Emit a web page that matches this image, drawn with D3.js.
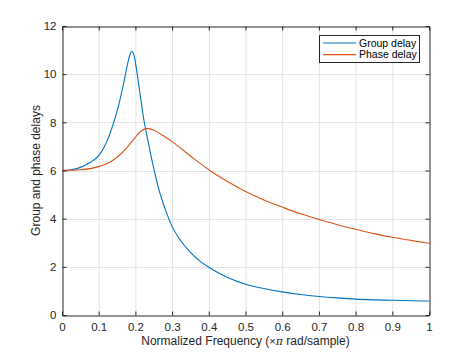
<!DOCTYPE html>
<html><head><meta charset="utf-8">
<script src="https://cdn.jsdelivr.net/npm/d3@7"></script>
<style>body{margin:0;background:#fff}svg{display:block}text{font-family:"Liberation Sans",Arial,Helvetica,sans-serif}</style>
</head><body><svg id="c" width="474" height="355"></svg>
<script>
const groupFreq = [0,0.025,0.05,0.075,0.1,0.115,0.13,0.142,0.155,0.167,0.177,0.184,0.19,0.196,0.203,0.212,0.222,0.232,0.242,0.252,0.265,0.28,0.3,0.325,0.35,0.375,0.4,0.45,0.5,0.55,0.6,0.65,0.7,0.75,0.8,0.85,0.9,0.95,1.0];
const groupDelay = [6.0,6.03,6.13,6.32,6.62,6.98,7.5,8.05,8.75,9.55,10.3,10.75,10.95,10.8,10.2,9.25,8.2,7.4,6.65,5.95,5.15,4.45,3.68,3.05,2.6,2.25,1.98,1.57,1.28,1.1,0.96,0.85,0.77,0.71,0.66,0.63,0.61,0.59,0.58];
const phaseFreq = [0,0.05,0.1,0.125,0.15,0.175,0.2,0.215,0.232,0.25,0.275,0.3,0.35,0.4,0.45,0.5,0.55,0.6,0.65,0.7,0.75,0.8,0.85,0.9,0.95,1.0];
const phaseDelay = [6.0,6.03,6.16,6.3,6.55,6.92,7.38,7.63,7.75,7.68,7.45,7.2,6.6,6.03,5.55,5.13,4.78,4.48,4.2,3.97,3.75,3.56,3.38,3.23,3.1,2.98];
const xTicks = [0,0.1,0.2,0.3,0.4,0.5,0.6,0.7,0.8,0.9,1];
const yTicks = [0,2,4,6,8,10,12];
const seriesNames = ["Group delay","Phase delay"];
const colors = ["#0072BD","#D95319"];

const svg = d3.select("#c");
const L=62,R=429,T=26,B=315;
const x = d3.scaleLinear().domain([0,1]).range([L,R]);
const y = d3.scaleLinear().domain([0,12]).range([B,T]);
const axisColor="#262626", gridColor="#e3e3e3";

// grid
const g = svg.append("g");
g.selectAll(".gx").data(xTicks.slice(1,-1)).enter().append("line")
 .attr("x1",d=>x(d)+0.5).attr("x2",d=>x(d)+0.5).attr("y1",T).attr("y2",B).attr("stroke",gridColor);
g.selectAll(".gy").data(yTicks.slice(1,-1)).enter().append("line")
 .attr("y1",d=>Math.round(y(d))+0.5).attr("y2",d=>Math.round(y(d))+0.5).attr("x1",L).attr("x2",R).attr("stroke",gridColor);

// lines
const line = d3.line().x(d=>x(d[0])).y(d=>y(d[1])).curve(d3.curveMonotoneX);
const series = [d3.zip(groupFreq,groupDelay), d3.zip(phaseFreq,phaseDelay)];
series.forEach((s,i)=>{
  svg.append("path").datum(s).attr("d",line).attr("fill","none").attr("stroke",colors[i]).attr("stroke-width",1.1);
});

// axes
const fmtX = d=> d===0||d===1 ? String(d) : d3.format(".1f")(d);
const ax = svg.append("g").attr("transform",`translate(0,${B+0.5})`)
 .call(d3.axisBottom(x).tickValues(xTicks).tickFormat(fmtX).tickSizeInner(-4).tickSizeOuter(0).tickPadding(7));
const axT = svg.append("g").attr("transform",`translate(0,${T+0.5})`)
 .call(d3.axisTop(x).tickValues(xTicks).tickFormat("").tickSizeInner(-4).tickSizeOuter(0));
const ay = svg.append("g").attr("transform",`translate(${L+0.5},0)`)
 .call(d3.axisLeft(y).tickValues(yTicks).tickSizeInner(-4).tickSizeOuter(0).tickPadding(6));
const ayR = svg.append("g").attr("transform",`translate(${R+0.5},0)`)
 .call(d3.axisRight(y).tickValues(yTicks).tickFormat("").tickSizeInner(-4).tickSizeOuter(0));
[ax,axT,ay,ayR].forEach(a=>{
  a.selectAll("path").attr("stroke",axisColor);
  a.selectAll("line").attr("stroke",axisColor);
  a.selectAll("text").attr("fill",axisColor).style("font-size","11.5px").style("font-family","'Liberation Sans',Arial,sans-serif");
});

// labels
const xl = svg.append("text").attr("x",(L+R)/2).attr("y",345).attr("text-anchor","middle")
 .attr("fill",axisColor).style("font-size","12px");
xl.append("tspan").text("Normalized Frequency (");
xl.append("tspan").text("×").style("font-size","11px");
xl.append("tspan").text("π").style("font-family","'DejaVu Serif',serif").style("font-style","italic").style("font-size","11px");
xl.append("tspan").text(" rad/sample)");
svg.append("text").attr("transform",`translate(40,${(T+B)/2}) rotate(-90)`).attr("text-anchor","middle")
 .attr("fill",axisColor).style("font-size","12px").text("Group and phase delays");

// legend
const lg = svg.append("g");
lg.append("rect").attr("x",319.5).attr("y",35.5).attr("width",100).attr("height",27)
 .attr("fill","#fff").attr("stroke",axisColor).attr("stroke-width",1);
seriesNames.forEach((n,i)=>{
  const yy = 43 + i*11.6;
  lg.append("line").attr("x1",323).attr("x2",356).attr("y1",yy).attr("y2",yy).attr("stroke",colors[i]).attr("stroke-width",1.1);
  lg.append("text").attr("x",359).attr("y",yy+3.8).attr("fill","#000").style("font-size","10.5px").text(n);
});
</script></body></html>
